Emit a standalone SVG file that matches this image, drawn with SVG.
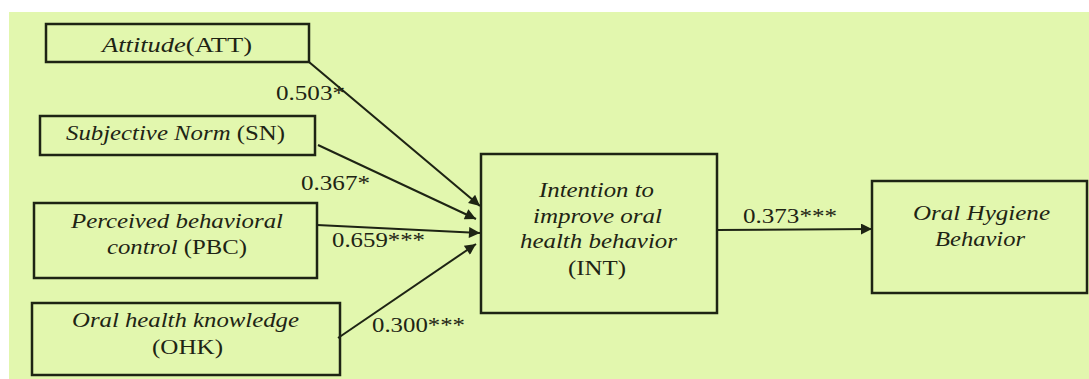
<svg xmlns="http://www.w3.org/2000/svg" width="1089" height="379" viewBox="0 0 1089 379" font-family="Liberation Serif" font-size="20" fill="#1e2414">
<defs>
<style>
.box{fill:none;stroke:#1e2414;stroke-width:2.5}
.edge{stroke:#1e2414;stroke-width:2;marker-end:url(#ah)}
</style>
<marker id="ah" viewBox="0 0 10 10" refX="10" refY="5" markerWidth="14" markerHeight="11" markerUnits="userSpaceOnUse" orient="auto">
<path d="M0,0 L10,5 L0,10 z" fill="#1e2414"/>
</marker>
</defs>
<rect x="0" y="0" width="1089" height="379" fill="#ffffff"/>
<rect x="9" y="12" width="1080" height="367" fill="#e2f7ae"/>
<g id="connectors">
<line class="edge" x1="309" y1="62" x2="480" y2="206"/>
<line class="edge" x1="318" y1="145" x2="476" y2="219"/>
<line class="edge" x1="317" y1="225" x2="480" y2="233"/>
<line class="edge" x1="338" y1="338" x2="476" y2="244"/>
<line class="edge" x1="717" y1="230" x2="872" y2="229"/>
<text x="276" y="100" textLength="69" lengthAdjust="spacingAndGlyphs">0.503*</text>
<text x="301" y="190" textLength="69" lengthAdjust="spacingAndGlyphs">0.367*</text>
<text x="332" y="247" textLength="93" lengthAdjust="spacingAndGlyphs">0.659***</text>
<text x="372" y="332" textLength="93" lengthAdjust="spacingAndGlyphs">0.300***</text>
<text x="743" y="223" textLength="94" lengthAdjust="spacingAndGlyphs">0.373***</text>
</g>
<g id="att">
<rect class="box" x="46" y="24" width="263" height="38"/>
<text x="102" y="52" textLength="150" lengthAdjust="spacingAndGlyphs"><tspan font-style="italic">Attitude</tspan>(ATT)</text>
</g>
<g id="sn">
<rect class="box" x="40" y="116" width="275" height="39"/>
<text x="66" y="140" textLength="219" lengthAdjust="spacingAndGlyphs"><tspan font-style="italic">Subjective Norm</tspan> (SN)</text>
</g>
<g id="pbc">
<rect class="box" x="34" y="203" width="283" height="75"/>
<text font-style="italic" x="71" y="228" textLength="212" lengthAdjust="spacingAndGlyphs">Perceived behavioral</text>
<text x="107" y="254" textLength="140" lengthAdjust="spacingAndGlyphs"><tspan font-style="italic">control</tspan> (PBC)</text>
</g>
<g id="ohk">
<rect class="box" x="32" y="303" width="308" height="72"/>
<text font-style="italic" x="72" y="327" textLength="227" lengthAdjust="spacingAndGlyphs">Oral health knowledge</text>
<text x="152" y="354" textLength="71" lengthAdjust="spacingAndGlyphs">(OHK)</text>
</g>
<g id="int">
<rect class="box" x="481" y="154" width="236" height="159"/>
<text font-style="italic" x="539" y="197" textLength="115" lengthAdjust="spacingAndGlyphs">Intention to</text>
<text font-style="italic" x="533" y="223" textLength="129" lengthAdjust="spacingAndGlyphs">improve oral</text>
<text font-style="italic" x="520" y="248" textLength="157" lengthAdjust="spacingAndGlyphs">health behavior</text>
<text x="568" y="275" textLength="58" lengthAdjust="spacingAndGlyphs">(INT)</text>
</g>
<g id="ohb">
<rect class="box" x="872" y="181" width="215" height="112"/>
<text font-style="italic" x="913" y="220" textLength="137" lengthAdjust="spacingAndGlyphs">Oral Hygiene</text>
<text font-style="italic" x="935" y="246" textLength="90" lengthAdjust="spacingAndGlyphs">Behavior</text>
</g>
</svg>
